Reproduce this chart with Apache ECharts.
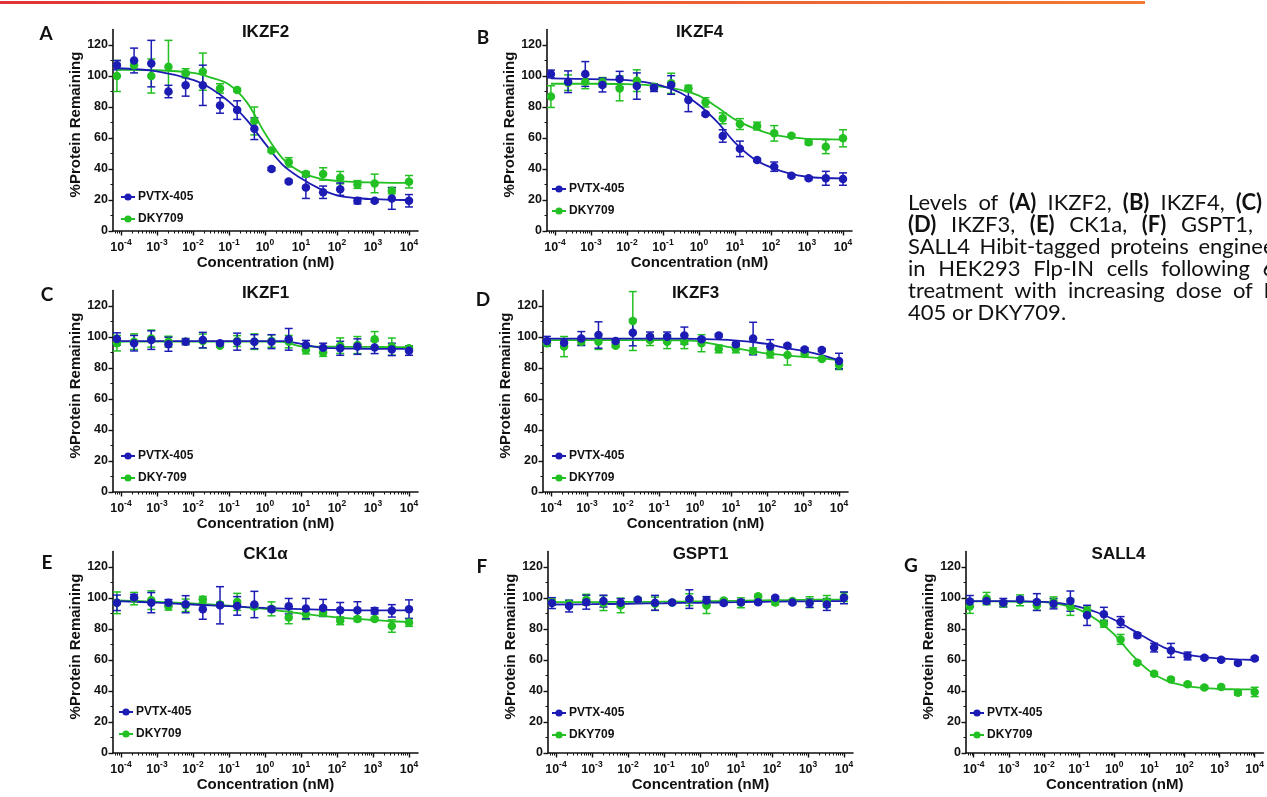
<!DOCTYPE html>
<html>
<head>
<meta charset="utf-8">
<script src="https://cdn.jsdelivr.net/npm/echarts@6/dist/echarts.min.js"></script>
<style>
  html, body { margin: 0; padding: 0; background: #fff; overflow: hidden; }
  #chart { width: 1267px; height: 797px; }
  #caption { position: absolute; left: 908px; top: 191px; font-family: Lato, "Open Sans", sans-serif;
             font-size: 22px; line-height: 22px; color: #111; white-space: nowrap; }
  #caption div { height: 22px; }
  #caption b { font-weight: bold; }
</style>
</head>
<body>
<div id="chart"></div>
<div id="caption"></div>
<script>
// 3-fold dilution series (nM), low to high
const conc = [0.0000774, 0.000232, 0.000697, 0.00209, 0.00627, 0.0188, 0.0565, 0.169, 0.508,
              1.52, 4.57, 13.7, 41.2, 123, 370, 1111, 3333, 10000];
const curveConc = [0.0000774, 0.001, 0.01, 0.0316, 0.1, 0.316, 1, 3.16, 10, 31.6, 100, 316, 1000, 3162, 10000];

// A  IKZF2
const A_pvtx = [107, 110, 108, 90, 94, 94, 81, 78, 66, 40, 32, 28, 25, 27, 19.5, 19.5, 21, 19.5];
const A_pvtxErr = [3, 8, 15, 4, 7, 13, 5, 6, 7, 1, 1, 7, 4, 4, 2, 1, 7, 4];
const A_dky = [100, 107, 100, 106, 101.7, 102.8, 92, 91, 71, 52, 44.3, 36.8, 36.8, 34.4, 30, 30.7, 26, 31.8];
const A_dkyErr = [10, 3, 11, 17, 3, 12, 3, 1, 9, 1, 3, 1.5, 4, 4, 2.5, 6, 2, 4];
const A_pvtxFit = [105, 103, 97.5, 92, 83.5, 71.5, 56.5, 42.5, 34, 27.5, 23, 21.3, 20.5, 20.1, 20];
const A_dkyFit = [104, 103.7, 102, 99, 94.5, 83, 63, 46.5, 38, 34, 32.3, 31.6, 31.3, 31.1, 31];

// B  IKZF4
const B_pvtx = [101.3, 96.3, 101.3, 94.2, 98, 93.5, 92.5, 94.2, 84.5, 75.5, 61.3, 53, 45.8, 41.5, 35.7, 34, 34, 33.5];
const B_pvtxErr = [2.5, 7, 8, 4.5, 5, 8.5, 2.5, 6, 7.5, 1, 4, 5, 1, 3, 1, 1, 4.5, 4];
const B_dky = [86.7, 95.7, 96.3, 96, 92, 97, 93, 95.3, 92, 83, 72.7, 69, 67.7, 63, 61.5, 57.2, 54.4, 59.8];
const B_dkyErr = [7, 5, 4.5, 3, 8, 7, 2, 6.5, 2, 3, 3.5, 3.5, 2.5, 5, 1, 1.5, 4.5, 5.5];
const B_pvtxFit = [98.5, 98, 97.4, 96, 93.5, 89, 81.3, 70.5, 57, 47, 41, 37.2, 35, 34.2, 34];
const B_dkyFit = [95, 95, 94.8, 94.3, 93, 91, 87.3, 80, 72, 66.5, 62.5, 60.5, 59.5, 59.2, 59];

// C  IKZF1
const C_pvtx = [98.7, 96, 98, 95.3, 97, 98, 96, 97, 97, 97, 98.5, 94.8, 93, 92.7, 93.8, 93.3, 92, 91.2];
const C_pvtxErr = [4, 5, 6, 4.5, 2, 5, 1, 5.5, 4.5, 4.5, 7, 3, 3, 4.5, 5, 4, 4, 3];
const C_dky = [96, 97, 99, 97, 97, 97.4, 94.4, 97.4, 97, 97.4, 97, 91.6, 90, 94.4, 94.8, 98.5, 93.8, 92.7];
const C_dkyErr = [5, 5, 5.5, 3.5, 1, 4.5, 1, 3.5, 5, 4, 4, 2.5, 2.5, 5, 5.5, 5, 5.5, 1.5];
const C_pvtxFit = [97.4, 97.4, 97.4, 97.4, 97.4, 97.4, 97.4, 97.3, 95.5, 93.3, 92.7, 92.5, 92.4, 92.4, 92.4];
const C_dkyFit = [97, 97, 97, 97, 97, 97, 97, 96.8, 94, 93.8, 93.7, 93.6, 93.6, 93.5, 93.5];

// D  IKZF3
const D_pvtx = [97.4, 96.3, 99, 101.3, 97.4, 102.8, 100.2, 100.2, 100.9, 98.5, 100.9, 95.3, 99, 93.8, 94.4, 92, 91.6, 84.5];
const D_pvtxErr = [3, 2, 4.5, 8.5, 1, 8.5, 3, 3, 5.5, 1, 1, 1, 10.5, 4.5, 1, 1, 1, 5];
const D_dky = [96, 93.8, 97, 97, 94.4, 110.3, 98, 97, 97, 96, 92.3, 92.3, 91, 89, 88.4, 89, 85.8, 82];
const D_dkyErr = [2, 6.5, 2, 5, 1, 19, 3.5, 4.5, 4.5, 5.5, 2.5, 2.5, 2, 2.5, 6.5, 1.5, 1, 3];
const D_pvtxFit = [99, 99, 99, 99, 99, 98.9, 98.8, 98.5, 98, 97, 95.5, 93, 91, 88.5, 85];
const D_dkyFit = [98, 98, 98, 98, 98, 97.9, 97.5, 95.6, 93.3, 91.2, 89.4, 88.2, 87.2, 86.3, 85];

// E  CK1α
const E_pvtx = [96.9, 100.3, 97, 97, 96, 92.8, 95.3, 94.9, 95.8, 92.8, 94.7, 93.2, 93.6, 92.1, 92.1, 91.7, 91.7, 92.8];
const E_pvtxErr = [5, 2, 6.5, 2, 5.5, 6.5, 12, 6, 8.5, 1.5, 5, 6.5, 5.5, 5, 5.5, 2, 4, 6];
const E_dky = [96.9, 99.6, 98.6, 94.7, 95.3, 99, 95.8, 97.5, 94.3, 93, 87.4, 89.6, 90.4, 85.3, 86.4, 86.4, 81.9, 84.2];
const E_dkyErr = [7, 4, 6, 2.5, 4, 2, 1.5, 5.5, 1.5, 4.5, 4, 3.5, 2, 2.5, 1.5, 1, 4, 2.5];
const E_pvtxFit = [98, 97, 95.8, 95.2, 94.7, 94.1, 93.6, 93.2, 92.8, 92.5, 92.3, 92.1, 92, 92, 92];
const E_dkyFit = [98.5, 97.5, 96.5, 95.8, 95, 94, 93, 91.5, 90, 88.6, 87.5, 86.6, 85.8, 85, 84.5];

// F  GSPT1
const F_pvtx = [96.7, 94.8, 97.3, 98, 96.9, 98.9, 96.9, 97.1, 99.3, 98.4, 96.7, 97.3, 97.3, 100.1, 97.1, 96.7, 95.8, 100.1];
const F_pvtxErr = [3.5, 3.8, 4.5, 3.8, 2.7, 1, 4.8, 1, 6, 2.5, 1, 1.5, 1, 1, 1, 2.7, 3.8, 3.8];
const F_dky = [97.3, 96.3, 98.9, 96.7, 95.2, 98.9, 96.3, 97.1, 98.9, 95.2, 98.4, 96.9, 101.2, 97.1, 98, 97.3, 97.8, 100.6];
const F_dkyErr = [2, 2, 3.5, 4.8, 4.7, 1, 4.3, 1, 3.8, 5.2, 1, 3.2, 1, 1.5, 1, 3.5, 3.8, 2.9];
const F_pvtxFit = [95.8, 96, 96.3, 96.5, 96.6, 96.8, 96.9, 97.1, 97.3, 97.5, 97.6, 97.8, 97.9, 98, 98];
const F_dkyFit = [97.3, 97.4, 97.5, 97.5, 97.6, 97.7, 97.8, 98, 98.2, 98.4, 98.6, 98.7, 98.8, 98.9, 98.9];

// G  SALL4
const G_pvtx = [97.8, 98, 97, 99.1, 97.4, 96.3, 98, 88.8, 89.5, 84.5, 75.9, 68, 66.2, 62.6, 61.5, 60.2, 58, 60.9];
const G_pvtxErr = [3.8, 1.5, 2.7, 1.5, 5.4, 3.3, 6.5, 6.5, 4.5, 3.5, 1.5, 2.8, 4.5, 2.5, 1, 1, 1, 1];
const G_dky = [94.6, 99.6, 96.3, 98.5, 95.3, 97.4, 94.2, 92, 83.4, 73.3, 58.3, 51.2, 47.5, 44.3, 42.2, 42.6, 38.9, 39.4];
const G_dkyErr = [4.5, 4, 2, 3.5, 3.3, 3.3, 5.4, 2.2, 2.3, 3.2, 1, 1, 1, 1, 1, 1, 1.5, 3];
const G_pvtxFit = [98, 98, 97.5, 96.5, 94.2, 90.8, 86, 79.6, 73.1, 67.3, 64, 62, 61, 60.4, 60];
const G_dkyFit = [97.8, 97.7, 97.3, 95.8, 92.5, 86, 76.5, 63.5, 53, 46.5, 43.5, 42, 41.3, 41.1, 41];

const yTicks = [0, 20, 40, 60, 80, 100, 120];
const yMinorTicks = [10, 30, 50, 70, 90, 110];
const xDecades = [-4, -3, -2, -1, 0, 1, 2, 3, 4];

const BLUE = '#1c1cb4';
const GREEN = '#23c023';
const FONT = '"Liberation Sans", Arial, sans-serif';

// panel layout: grid box, letter, title, legend placement
const panels = [
  { letter: 'A', title: 'IKZF2', left: 113, top: 29.5, lx: 46, ly: 34, legX: 14, legY: -34, dkyName: 'DKY709',
    pvtx: A_pvtx, pvtxErr: A_pvtxErr, dky: A_dky, dkyErr: A_dkyErr, pvtxFit: A_pvtxFit, dkyFit: A_dkyFit },
  { letter: 'B', title: 'IKZF4', left: 547, top: 29.5, lx: 483, ly: 38, legX: 11, legY: -42, dkyName: 'DKY709',
    pvtx: B_pvtx, pvtxErr: B_pvtxErr, dky: B_dky, dkyErr: B_dkyErr, pvtxFit: B_pvtxFit, dkyFit: B_dkyFit },
  { letter: 'C', title: 'IKZF1', left: 113, top: 290.5, lx: 47, ly: 295, legX: 14, legY: -36, dkyName: 'DKY-709',
    pvtx: C_pvtx, pvtxErr: C_pvtxErr, dky: C_dky, dkyErr: C_dkyErr, pvtxFit: C_pvtxFit, dkyFit: C_dkyFit },
  { letter: 'D', title: 'IKZF3', left: 543, top: 290.5, lx: 483, ly: 300, legX: 15, legY: -36, dkyName: 'DKY709',
    pvtx: D_pvtx, pvtxErr: D_pvtxErr, dky: D_dky, dkyErr: D_dkyErr, pvtxFit: D_pvtxFit, dkyFit: D_dkyFit },
  { letter: 'E', title: 'CK1α', left: 113, top: 551.5, lx: 47, ly: 563, legX: 12, legY: -41, dkyName: 'DKY709',
    pvtx: E_pvtx, pvtxErr: E_pvtxErr, dky: E_dky, dkyErr: E_dkyErr, pvtxFit: E_pvtxFit, dkyFit: E_dkyFit },
  { letter: 'F', title: 'GSPT1', left: 548, top: 551.5, lx: 482, ly: 567, legX: 10, legY: -40, dkyName: 'DKY709',
    pvtx: F_pvtx, pvtxErr: F_pvtxErr, dky: F_dky, dkyErr: F_dkyErr, pvtxFit: F_pvtxFit, dkyFit: F_dkyFit },
  { letter: 'G', title: 'SALL4', left: 966, top: 551.5, lx: 911, ly: 566, legX: 10, legY: -40, dkyName: 'DKY709',
    pvtx: G_pvtx, pvtxErr: G_pvtxErr, dky: G_dky, dkyErr: G_dkyErr, pvtxFit: G_pvtxFit, dkyFit: G_dkyFit }
];

const GRID_W = 305;
const GRID_H = 201.5;
const X_MIN = -4.22;
const X_MAX = 4.25;

// log minor tick positions between decades
const minorX = [];
for (let d = -5; d <= 4; d++) {
  for (let m = 2; m <= 9; m++) {
    const v = d + Math.log10(m);
    if (v > X_MIN && v < X_MAX) minorX.push(v);
  }
}

// caption lines (justified in the source, so each line gets its own word spacing)
const captionLines = [
  { html: 'Levels of <b>(A)</b> IKZF2, <b>(B)</b> IKZF4, <b>(C)</b> IKZF1,', ws: 5.5 },
  { html: '<b>(D)</b> IKZF3, <b>(E)</b> CK1a, <b>(F)</b> GSPT1, and <b>(G)</b>', ws: 9 },
  { html: 'SALL4 Hibit-tagged proteins engineered', ws: 4 },
  { html: 'in HEK293 Flp-IN cells following 6 h', ws: 7 },
  { html: 'treatment with increasing dose of PVTX-', ws: 5.5 },
  { html: '405 or DKY709.', ws: 0 }
];
document.getElementById('caption').innerHTML = captionLines
  .map(l => '<div style="word-spacing:' + l.ws + 'px">' + l.html + '</div>').join('');

const grid = [], xAxis = [], yAxis = [], series = [], legend = [];
const graphic = [
  {
    type: 'rect', left: 0, top: 1, shape: { width: 1145, height: 3 },
    style: { fill: new echarts.graphic.LinearGradient(0, 0, 1, 0, [
      { offset: 0, color: '#e0323a' }, { offset: 1, color: '#f47a30' }
    ]) }
  }
];

function errRender(color) {
  return function (params, api) {
    const x = api.value(0), y = api.value(1), e = api.value(2);
    const hi = api.coord([x, y + e]);
    const lo = api.coord([x, y - e]);
    const cap = 4;
    const st = { stroke: color, lineWidth: 1.5 };
    return {
      type: 'group',
      children: [
        { type: 'line', shape: { x1: hi[0], y1: hi[1], x2: lo[0], y2: lo[1] }, style: st },
        { type: 'line', shape: { x1: hi[0] - cap, y1: hi[1], x2: hi[0] + cap, y2: hi[1] }, style: st },
        { type: 'line', shape: { x1: lo[0] - cap, y1: lo[1], x2: lo[0] + cap, y2: lo[1] }, style: st }
      ]
    };
  };
}

panels.forEach((p, i) => {
  grid.push({ left: p.left, top: p.top, width: GRID_W, height: GRID_H });
  const gx = 2 * i, gy = 2 * i;

  // major x axis
  xAxis.push({
    type: 'value', gridIndex: i, position: 'bottom', min: X_MIN, max: X_MAX,
    name: 'Concentration (nM)', nameLocation: 'middle', nameGap: 23,
    nameTextStyle: { fontFamily: FONT, fontWeight: 'bold', fontSize: 15, color: '#111' },
    axisLine: { onZero: false, lineStyle: { color: '#111', width: 1.6 } },
    axisTick: { show: true, length: 4.5, customValues: xDecades, lineStyle: { color: '#111', width: 1.4 } },
    splitLine: { show: false },
    axisLabel: {
      customValues: xDecades, margin: 7,
      formatter: v => '{b|10}{s|' + v + '}',
      rich: {
        b: { fontFamily: FONT, fontWeight: 'bold', fontSize: 12.5, color: '#111', lineHeight: 16, verticalAlign: 'bottom' },
        s: { fontFamily: FONT, fontWeight: 'bold', fontSize: 8.5, color: '#111', lineHeight: 9, verticalAlign: 'top' }
      }
    }
  });
  // minor x ticks
  xAxis.push({
    type: 'value', gridIndex: i, position: 'bottom', min: X_MIN, max: X_MAX,
    axisLine: { show: false, onZero: false },
    axisTick: { show: true, length: 2.5, customValues: minorX, lineStyle: { color: '#111', width: 1 } },
    axisLabel: { show: false }, splitLine: { show: false }
  });
  // major y axis
  yAxis.push({
    type: 'value', gridIndex: i, position: 'left', min: 0, max: 130,
    axisLine: { show: true, onZero: false, lineStyle: { color: '#111', width: 1.6 } },
    axisTick: { show: true, length: 4.5, customValues: yTicks, lineStyle: { color: '#111', width: 1.4 } },
    axisLabel: { customValues: yTicks, margin: 5, fontFamily: FONT, fontWeight: 'bold', fontSize: 12.5, color: '#111' },
    splitLine: { show: false }
  });
  // minor y ticks
  yAxis.push({
    type: 'value', gridIndex: i, position: 'left', min: 0, max: 130,
    axisLine: { show: false, onZero: false },
    axisTick: { show: true, length: 2.5, customValues: yMinorTicks, lineStyle: { color: '#111', width: 1 } },
    axisLabel: { show: false }, splitLine: { show: false }
  });

  const sets = [
    { name: p.dkyName, color: GREEN, vals: p.dky, err: p.dkyErr, fit: p.dkyFit },
    { name: 'PVTX-405', color: BLUE, vals: p.pvtx, err: p.pvtxErr, fit: p.pvtxFit }
  ];
  sets.forEach(s => {
    series.push({
      type: 'line', name: s.name, xAxisIndex: gx, yAxisIndex: gy,
      data: curveConc.map((c, k) => [Math.log10(c), s.fit[k]]),
      smooth: 0.35, symbol: 'circle', symbolSize: 8, showSymbol: false,
      lineStyle: { color: s.color, width: 1.8 }, itemStyle: { color: s.color },
      silent: true, animation: false, z: 3
    });
    series.push({
      type: 'custom', name: s.name + ' SD', xAxisIndex: gx, yAxisIndex: gy,
      data: conc.map((c, k) => [Math.log10(c), s.vals[k], s.err[k]]),
      encode: { x: 0, y: 1 },
      renderItem: errRender(s.color), silent: true, animation: false, z: 3
    });
    series.push({
      type: 'scatter', name: s.name + ' mean', xAxisIndex: gx, yAxisIndex: gy,
      data: conc.map((c, k) => [Math.log10(c), s.vals[k]]),
      symbol: 'circle', symbolSize: 8.5, itemStyle: { color: s.color, opacity: 1 },
      silent: true, animation: false, z: 4
    });
  });

  const gBottom = p.top + GRID_H;
  legend.push({
    data: ['PVTX-405', p.dkyName], orient: 'vertical',
    left: p.left + p.legX - 7, top: gBottom + p.legY - 6,
    itemWidth: 14, itemHeight: 9, itemGap: 10, padding: 0, selectedMode: false,
    textStyle: { fontFamily: FONT, fontWeight: 'bold', fontSize: 12, color: '#111', padding: [0, 0, 0, -2] }
  });

  graphic.push({
    type: 'text', x: p.lx, y: p.ly,
    style: { text: p.letter, font: 'bold 19px Lato, "Open Sans", sans-serif', fill: '#111',
             textAlign: 'center', textVerticalAlign: 'middle' }
  });
  graphic.push({
    type: 'text', x: p.left + GRID_W / 2, y: p.top + 2.5,
    style: { text: p.title, font: 'bold 17px ' + FONT, fill: '#111',
             textAlign: 'center', textVerticalAlign: 'middle' }
  });
  graphic.push({
    type: 'text', x: p.left - 37, y: p.top + 95, rotation: Math.PI / 2,
    style: { text: '%Protein Remaining', font: 'bold 15px ' + FONT, fill: '#111',
             textAlign: 'center', textVerticalAlign: 'middle' }
  });
});

const chart = echarts.init(document.getElementById('chart'), null, { renderer: 'canvas' });
chart.setOption({
  backgroundColor: '#fff',
  animation: false,
  grid, xAxis, yAxis, series, legend, graphic
});
window.addEventListener('resize', () => chart.resize());
</script>
</body>
</html>
